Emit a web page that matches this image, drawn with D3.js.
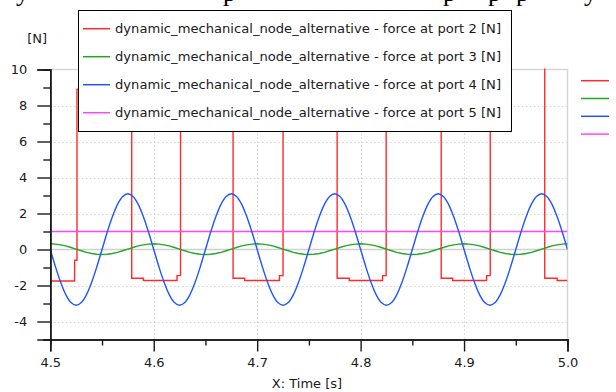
<!DOCTYPE html>
<html lang="en">
<head>
    <meta charset="UTF-8">
    <title>Port forces</title>
    <style>
        body { margin: 0; background: white; }
        svg { display: block; }
        .tick text { font-family: "DejaVu Sans", sans-serif; font-size: 13px; fill: #1a1a1a; }
        .label { font-family: "DejaVu Sans", sans-serif; font-size: 13px; fill: #1a1a1a; }
    </style>
    <script src="https://d3js.org/d3.v7.min.js"></script>
</head>
<body>
<div id="chart"></div>
<script>
    // series names
    const seriesNames = [
        "dynamic_mechanical_node_alternative - force at port 2 [N]",
        "dynamic_mechanical_node_alternative - force at port 3 [N]",
        "dynamic_mechanical_node_alternative - force at port 4 [N]",
        "dynamic_mechanical_node_alternative - force at port 5 [N]"
    ];
    const seriesColors = ["#ff2a2a", "#22a822", "#1f55ff", "#ff45ff"];

    // axis ticks
    const xTicks = [4.5, 4.6, 4.7, 4.8, 4.9, 5.0];
    const xMinor = [4.55, 4.65, 4.75, 4.85, 4.95];
    const yTicks = [-4, -2, 0, 2, 4, 6, 8, 10];
    const yMinor = [-5, -3, -1, 1, 3, 5, 7, 9];

    // port 2: step signal, breakpoints (time, value)
    const port2Time = [4.500, 4.5235, 4.5258, 4.5787, 4.590, 4.6225, 4.6259,
        4.6767, 4.688, 4.7215, 4.7250, 4.7773, 4.789, 4.8212, 4.8247,
        4.8779, 4.889, 4.9218, 4.9253, 4.9780, 4.990, 5.000];
    const port2Value = [-1.75, -0.6, 8.9, -1.6, -1.72, -1.45, 9.3,
        -1.6, -1.72, -1.45, 9.6, -1.6, -1.72, -1.45, 9.9,
        -1.6, -1.72, -1.45, 10.6, -1.6, -1.72, -1.72];

    // ports 3 and 4 sampled every 5 ms from 4.5 s
    const port3Value = [
        0.32, 0.30, 0.26, 0.20, 0.11, 0.02, -0.07, -0.16, -0.22, -0.26,
        -0.28, -0.26, -0.22, -0.16, -0.07, 0.02, 0.11, 0.20, 0.26, 0.30,
        0.32, 0.30, 0.26, 0.20, 0.11, 0.02, -0.07, -0.16, -0.22, -0.26,
        -0.28, -0.26, -0.22, -0.16, -0.07, 0.02, 0.11, 0.20, 0.26, 0.30,
        0.32, 0.30, 0.26, 0.20, 0.11, 0.02, -0.07, -0.16, -0.22, -0.26,
        -0.28, -0.26, -0.22, -0.16, -0.07, 0.02, 0.11, 0.20, 0.26, 0.30,
        0.32, 0.30, 0.26, 0.20, 0.11, 0.02, -0.07, -0.16, -0.22, -0.26,
        -0.28, -0.26, -0.22, -0.16, -0.07, 0.02, 0.11, 0.20, 0.26, 0.30,
        0.32, 0.30, 0.26, 0.20, 0.11, 0.02, -0.07, -0.16, -0.22, -0.26,
        -0.28, -0.26, -0.22, -0.16, -0.07, 0.02, 0.11, 0.20, 0.26, 0.30,
        0.32
    ];
    const port4Value = [
        0, -0.96, -1.82, -2.51, -2.95, -3.1, -2.95, -2.51, -1.82, -0.96,
        0, 0.96, 1.82, 2.51, 2.95, 3.1, 2.95, 2.51, 1.82, 0.96,
        0, -0.96, -1.82, -2.51, -2.95, -3.1, -2.95, -2.51, -1.82, -0.96,
        0, 0.96, 1.82, 2.51, 2.95, 3.1, 2.95, 2.51, 1.82, 0.96,
        0, -0.96, -1.82, -2.51, -2.95, -3.1, -2.95, -2.51, -1.82, -0.96,
        0, 0.96, 1.82, 2.51, 2.95, 3.1, 2.95, 2.51, 1.82, 0.96,
        0, -0.96, -1.82, -2.51, -2.95, -3.1, -2.95, -2.51, -1.82, -0.96,
        0, 0.96, 1.82, 2.51, 2.95, 3.1, 2.95, 2.51, 1.82, 0.96,
        0, -0.96, -1.82, -2.51, -2.95, -3.1, -2.95, -2.51, -1.82, -0.96,
        0, 0.96, 1.82, 2.51, 2.95, 3.1, 2.95, 2.51, 1.82, 0.96,
        0
    ];
    // port 5: constant
    const port5Time = [4.5, 5.0];
    const port5Value = [1, 1];

    const sampleTime = port4Value.map((v, i) => 4.5 + i * 0.005);

    const width = 616, height = 392;
    const plotLeft = 50.3, plotRight = 567.5, plotTop = 69.5, plotBottom = 339.5;

    const svg = d3.select("#chart").append("svg")
        .attr("width", width)
        .attr("height", height);

    svg.append("rect").attr("width", width).attr("height", height).attr("fill", "white");

    // text line from the page above, only the descenders show
    const overText = [["y", 16], ["p", 223], ["p", 443], ["p", 488], ["p", 516], ["y", 584]];
    svg.append("g").selectAll("text")
        .data(overText)
        .enter().append("text")
        .attr("x", d => d[1])
        .attr("y", 1)
        .attr("font-family", "Liberation Serif, serif")
        .attr("font-size", 26)
        .attr("fill", "black")
        .text(d => d[0]);

    const x = d3.scaleLinear().domain([4.5, 5.0]).range([plotLeft, plotRight]);
    const y = d3.scaleLinear().domain([-5, 10]).range([plotBottom, plotTop]);

    // grid
    const grid = svg.append("g");
    grid.selectAll(".gx")
        .data(xTicks.filter(d => d > 4.5 && d < 5.0))
        .enter().append("line")
        .attr("x1", d => Math.round(x(d)) + 0.5).attr("x2", d => Math.round(x(d)) + 0.5)
        .attr("y1", plotTop).attr("y2", plotBottom)
        .attr("stroke", "#bdbdbd").attr("stroke-dasharray", "1,3");
    grid.selectAll(".gy")
        .data(yTicks.filter(d => d !== 0 && d !== 10))
        .enter().append("line")
        .attr("x1", plotLeft).attr("x2", plotRight)
        .attr("y1", d => Math.round(y(d)) + 0.5).attr("y2", d => Math.round(y(d)) + 0.5)
        .attr("stroke", "#bdbdbd").attr("stroke-dasharray", "1,3");
    grid.append("line")
        .attr("x1", plotLeft).attr("x2", plotRight)
        .attr("y1", y(0)).attr("y2", y(0))
        .attr("stroke", "#cfcfcf").attr("stroke-width", 1.5);
    // frame top and right
    grid.append("path")
        .attr("d", `M${plotLeft},${y(10)}H${plotRight}V${plotBottom}`)
        .attr("fill", "none").attr("stroke", "#d6d6d6").attr("stroke-width", 1.5);

    // data lines
    svg.append("clipPath").attr("id", "plot")
        .append("rect").attr("x", plotLeft).attr("y", plotTop - 1)
        .attr("width", plotRight - plotLeft).attr("height", plotBottom - plotTop + 1);

    const plot = svg.append("g").attr("clip-path", "url(#plot)");
    const line = d3.line().x(d => x(d[0])).y(d => y(d[1]));

    const series = [
        { pts: d3.zip(port2Time, port2Value), curve: d3.curveStepAfter },
        { pts: d3.zip(sampleTime, port3Value), curve: d3.curveLinear },
        { pts: d3.zip(sampleTime, port4Value), curve: d3.curveCatmullRom },
        { pts: d3.zip(port5Time, port5Value), curve: d3.curveLinear }
    ];
    // draw order: port 2 first, port 5 on top of it
    [0, 1, 3, 2].forEach(i => {
        plot.append("path")
            .attr("d", line.curve(series[i].curve)(series[i].pts))
            .attr("fill", "none")
            .attr("stroke", seriesColors[i])
            .attr("stroke-width", 1.4);
    });

    // axes
    svg.append("g").attr("transform", `translate(${plotLeft},0)`)
        .call(d3.axisLeft(y).tickValues(yTicks).tickSize(13).tickPadding(10).tickFormat(d => String(d)));
    svg.append("g").attr("transform", `translate(${plotLeft},0)`)
        .call(d3.axisLeft(y).tickValues(yMinor).tickSize(7).tickFormat(""));
    svg.append("g").attr("transform", `translate(0,${plotBottom})`)
        .call(d3.axisBottom(x).tickValues(xTicks).tickSize(12).tickPadding(6).tickFormat(d3.format(".1f")));
    svg.append("g").attr("transform", `translate(0,${plotBottom})`)
        .call(d3.axisBottom(x).tickValues(xMinor).tickSize(6).tickFormat(""));
    svg.selectAll(".domain").attr("stroke", "#1a1a1a").attr("stroke-width", 1.6);
    svg.selectAll(".tick line").attr("stroke", "#1a1a1a").attr("stroke-width", 1.4);

    svg.append("text").attr("class", "label")
        .attr("x", 47).attr("y", 43).attr("text-anchor", "end").text("[N]");
    svg.append("text").attr("class", "label")
        .attr("x", 307).attr("y", 388).attr("text-anchor", "middle").text("X: Time [s]");

    // legend box
    const legend = svg.append("g");
    legend.append("rect")
        .attr("x", 78.5).attr("y", 10.5).attr("width", 433).attr("height", 121)
        .attr("fill", "white").attr("stroke", "black");
    seriesNames.forEach((name, i) => {
        const cy = 28.7 + i * 28;
        legend.append("line")
            .attr("x1", 83).attr("x2", 110).attr("y1", cy).attr("y2", cy)
            .attr("stroke", seriesColors[i]).attr("stroke-width", 1.5);
        legend.append("text").attr("class", "label")
            .attr("x", 115).attr("y", cy + 4.5)
            .attr("textLength", 386).attr("lengthAdjust", "spacingAndGlyphs")
            .text(name);
    });

    // side markers right of the plot
    seriesColors.forEach((c, i) => {
        const cy = 80.7 + i * 17.8;
        svg.append("line")
            .attr("x1", 581).attr("x2", 609).attr("y1", cy).attr("y2", cy)
            .attr("stroke", c).attr("stroke-width", 1.5);
    });
</script>
</body>
</html>
